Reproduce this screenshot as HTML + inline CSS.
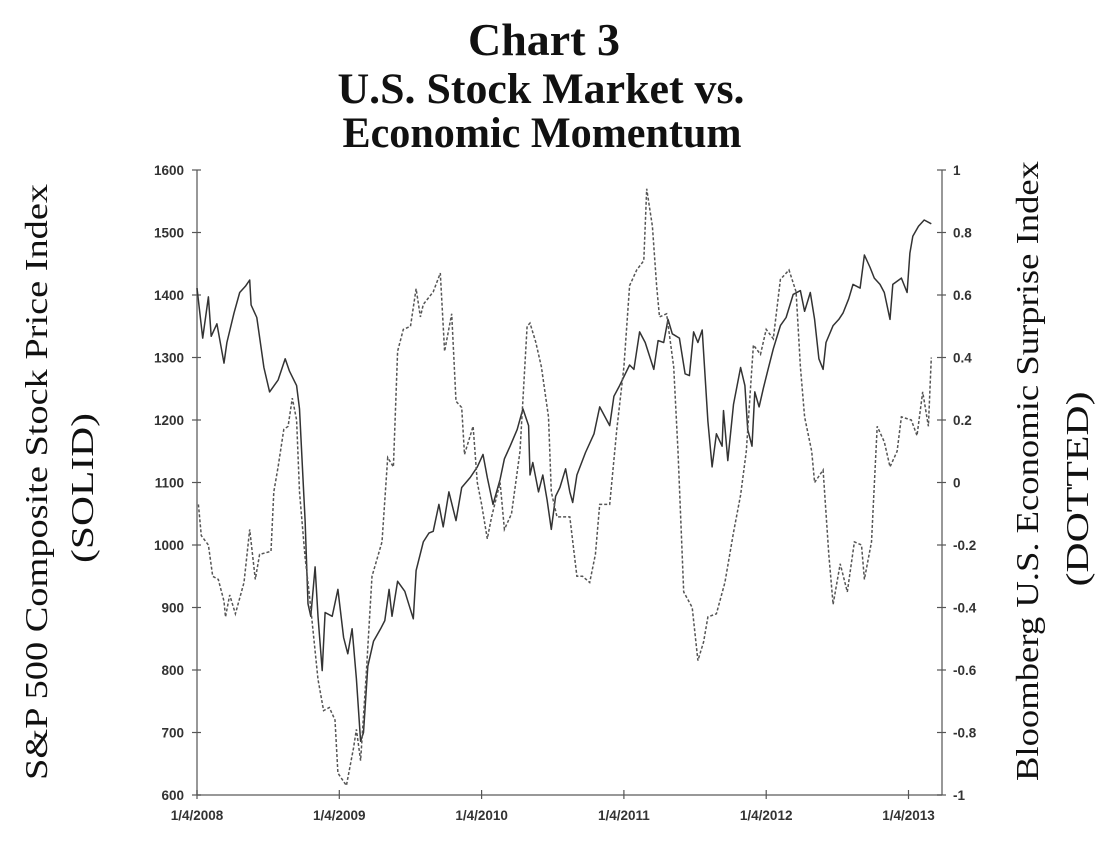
<!DOCTYPE html>
<html><head><meta charset="utf-8">
<style>
html,body{margin:0;padding:0;background:#fff;}
svg{display:block;}
.tick{font-family:"Liberation Sans",sans-serif;font-size:13.5px;font-weight:bold;fill:#333;}
.ttl{font-family:"Liberation Serif",serif;font-weight:bold;fill:#111;}
.ax{font-family:"Liberation Serif",serif;fill:#111;}
</style></head>
<body>
<svg id="chart" width="1116" height="858" viewBox="0 0 1116 858" xmlns="http://www.w3.org/2000/svg">
<text class="ttl" x="544" y="55" font-size="45" text-anchor="middle" textLength="152" lengthAdjust="spacingAndGlyphs">Chart 3</text>
<text class="ttl" x="541" y="103" font-size="43" text-anchor="middle" textLength="407" lengthAdjust="spacingAndGlyphs">U.S. Stock Market vs.</text>
<text class="ttl" x="542" y="147" font-size="43" text-anchor="middle" textLength="399" lengthAdjust="spacingAndGlyphs">Economic Momentum</text>
<text class="ax" transform="translate(47,482) rotate(-90)" font-size="32" text-anchor="middle" textLength="596" lengthAdjust="spacingAndGlyphs">S&amp;P 500 Composite Stock Price Index</text>
<text class="ax" transform="translate(93,488) rotate(-90)" font-size="32" text-anchor="middle" textLength="150" lengthAdjust="spacingAndGlyphs">(SOLID)</text>
<text class="ax" transform="translate(1038,471) rotate(-90)" font-size="32" text-anchor="middle" textLength="620" lengthAdjust="spacingAndGlyphs">Bloomberg U.S. Economic Surprise Index</text>
<text class="ax" transform="translate(1088,489) rotate(-90)" font-size="32" text-anchor="middle" textLength="195" lengthAdjust="spacingAndGlyphs">(DOTTED)</text>
<g id="axes"></g>
<g id="series"></g>
</svg>
<script>
const xTickLabels=["1/4/2008","1/4/2009","1/4/2010","1/4/2011","1/4/2012","1/4/2013"];
const xTickYears=[2008,2009,2010,2011,2012,2013];
const leftTicks=[600,700,800,900,1000,1100,1200,1300,1400,1500,1600];
const rightTicks=[-1,-0.8,-0.6,-0.4,-0.2,0,0.2,0.4,0.6,0.8,1];
const rightTickLabels=["-1","-0.8","-0.6","-0.4","-0.2","0","0.2","0.4","0.6","0.8","1"];
const spDates=[0,.04,.08,.10,.14,.19,.21,.26,.30,.34,.37,.38,.42,.47,.51,.57,.62,.65,.70,.72,.76,.78,.80,.83,.85,.88,.90,.95,.99,1.03,1.06,1.09,1.12,1.15,1.17,1.20,1.24,1.29,1.32,1.35,1.37,1.41,1.46,1.52,1.54,1.59,1.63,1.66,1.70,1.73,1.77,1.82,1.86,1.92,1.97,2.01,2.04,2.08,2.13,2.16,2.20,2.25,2.29,2.33,2.34,2.36,2.40,2.43,2.46,2.49,2.52,2.55,2.59,2.62,2.64,2.67,2.73,2.79,2.83,2.90,2.93,2.97,3.01,3.04,3.07,3.11,3.15,3.21,3.24,3.28,3.31,3.34,3.39,3.43,3.46,3.49,3.52,3.55,3.59,3.62,3.65,3.69,3.70,3.73,3.77,3.82,3.85,3.87,3.90,3.92,3.95,3.98,4.01,4.05,4.10,4.14,4.19,4.24,4.27,4.31,4.34,4.37,4.40,4.42,4.47,4.51,4.54,4.58,4.61,4.66,4.69,4.73,4.76,4.80,4.83,4.87,4.89,4.95,4.99,5.01,5.03,5.07,5.11,5.16];
const spValues=[1411,1331,1397,1334,1354,1291,1324,1371,1404,1414,1424,1384,1364,1284,1245,1264,1298,1278,1255,1218,1039,906,886,965,886,799,892,886,929,852,826,866,786,686,700,806,846,866,879,929,886,942,926,882,959,1005,1019,1022,1065,1029,1085,1039,1092,1108,1125,1145,1108,1065,1105,1138,1158,1185,1218,1191,1112,1132,1085,1112,1072,1025,1078,1092,1122,1085,1068,1112,1148,1178,1221,1191,1238,1255,1274,1288,1281,1341,1324,1281,1327,1324,1361,1338,1331,1274,1271,1341,1324,1344,1198,1125,1178,1158,1215,1135,1225,1284,1255,1185,1158,1245,1221,1251,1278,1314,1351,1364,1401,1407,1374,1404,1361,1298,1281,1324,1351,1361,1371,1394,1417,1411,1464,1444,1427,1417,1404,1361,1417,1427,1404,1467,1494,1510,1520,1514];
const esDates=[.01,.03,.08,.11,.15,.19,.20,.23,.27,.33,.37,.41,.44,.52,.54,.57,.61,.64,.67,.70,.72,.76,.79,.85,.89,.93,.97,.99,1.05,1.10,1.12,1.15,1.19,1.23,1.30,1.34,1.38,1.41,1.45,1.50,1.54,1.57,1.59,1.66,1.71,1.74,1.79,1.82,1.86,1.88,1.94,1.97,2.00,2.04,2.07,2.13,2.16,2.21,2.27,2.32,2.34,2.38,2.42,2.47,2.49,2.53,2.62,2.67,2.71,2.76,2.80,2.83,2.90,2.95,3.00,3.04,3.09,3.14,3.16,3.20,3.23,3.25,3.30,3.35,3.38,3.42,3.48,3.52,3.56,3.59,3.65,3.71,3.77,3.82,3.86,3.91,3.96,4.00,4.05,4.10,4.16,4.21,4.24,4.27,4.32,4.34,4.40,4.44,4.47,4.52,4.57,4.62,4.67,4.69,4.74,4.78,4.83,4.87,4.92,4.95,5.02,5.06,5.10,5.14,5.16];
const esValues=[-0.07,-0.17,-0.20,-0.30,-0.31,-0.38,-0.43,-0.36,-0.42,-0.32,-0.15,-0.31,-0.23,-0.22,-0.03,0.05,0.17,0.18,0.27,0.20,-0.03,-0.24,-0.36,-0.63,-0.73,-0.72,-0.76,-0.93,-0.97,-0.85,-0.79,-0.89,-0.61,-0.30,-0.19,0.08,0.05,0.42,0.49,0.50,0.62,0.53,0.57,0.61,0.67,0.42,0.54,0.26,0.24,0.09,0.18,0.00,-0.07,-0.18,-0.11,0.00,-0.15,-0.10,0.10,0.50,0.51,0.45,0.37,0.21,-0.03,-0.11,-0.11,-0.30,-0.30,-0.32,-0.23,-0.07,-0.07,0.17,0.37,0.63,0.68,0.71,0.94,0.82,0.63,0.53,0.54,0.37,0.10,-0.35,-0.40,-0.57,-0.51,-0.43,-0.42,-0.32,-0.16,-0.04,0.10,0.44,0.41,0.49,0.46,0.65,0.68,0.61,0.37,0.21,0.10,0.00,0.04,-0.23,-0.39,-0.26,-0.35,-0.19,-0.20,-0.31,-0.19,0.18,0.13,0.05,0.10,0.21,0.20,0.15,0.29,0.18,0.40];

const X0=197,X1=942,YT=170,YB=795,PXY=142.3;
const NS="http://www.w3.org/2000/svg";
function xScale(yearOffset){return X0+yearOffset*PXY;}
function yLeft(v){return YB-(v-600)/1000*(YB-YT);}
function yRight(v){return YB-(v+1)/2*(YB-YT);}
function mk(tag,attrs,parent){const e=document.createElementNS(NS,tag);for(const k in attrs)e.setAttribute(k,attrs[k]);parent.appendChild(e);return e;}
const axes=document.getElementById('axes');
const series=document.getElementById('series');
const la=mk('line',{x1:X0,y1:YT,x2:X0,y2:YB,stroke:'#777','stroke-width':1.5},axes);


const ra=mk('line',{x1:X1,y1:YT,x2:X1,y2:YB,stroke:'#777','stroke-width':1.5},axes);


const ba=mk('line',{x1:X0,y1:YB,x2:X1,y2:YB,stroke:'#777','stroke-width':1.5},axes);


leftTicks.forEach(v=>{
  const y=yLeft(v);
  mk('line',{x1:X0-5,y1:y,x2:X0+4,y2:y,stroke:'#555','stroke-width':1.2},axes);
  const t=mk('text',{x:X0-13,y:y+5,'text-anchor':'end',class:'tick'},axes);
  t.textContent=v;
  
  
});
rightTicks.forEach((v,i)=>{
  const y=yRight(v);
  mk('line',{x1:X1-5,y1:y,x2:X1+4,y2:y,stroke:'#555','stroke-width':1.2},axes);
  const t=mk('text',{x:X1+11,y:y+5,'text-anchor':'start',class:'tick'},axes);
  t.textContent=rightTickLabels[i];
  
  
});
xTickYears.forEach((yr,i)=>{
  const x=xScale(yr-2008);
  mk('line',{x1:x,y1:YB-5,x2:x,y2:YB+4,stroke:'#555','stroke-width':1.2},axes);
  const t=mk('text',{x:x,y:YB+25,'text-anchor':'middle',class:'tick'},axes);
  t.textContent=xTickLabels[i];
  
  
});
const spPts=spDates.map((d,i)=>xScale(d).toFixed(1)+','+yLeft(spValues[i]).toFixed(1)).join(' ');
const sp=mk('polyline',{points:spPts,fill:'none',stroke:'#333','stroke-width':1.5,'stroke-linejoin':'round'},series);


const esPts=esDates.map((d,i)=>xScale(d).toFixed(1)+','+yRight(esValues[i]).toFixed(1)).join(' ');
const es=mk('polyline',{points:esPts,fill:'none',stroke:'#555','stroke-width':1.5,'stroke-dasharray':'3,2'},series);


</script>
</body></html>
